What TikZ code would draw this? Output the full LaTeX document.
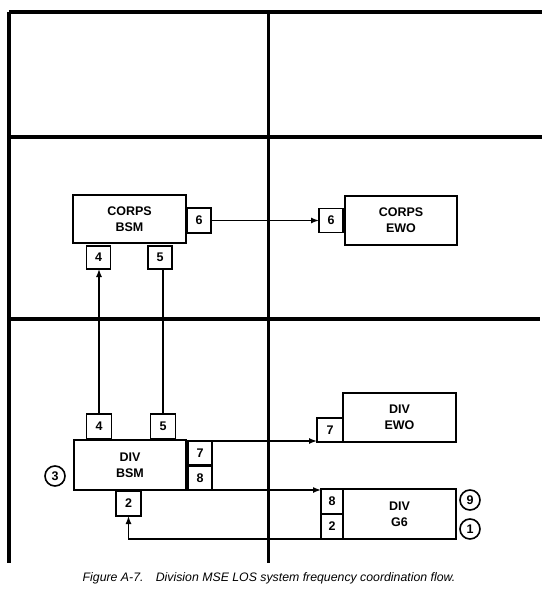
\documentclass[tikz,border=0pt]{standalone}
\usepackage{fontspec}
\setmainfont{Liberation Sans}
\usetikzlibrary{arrows.meta}
\begin{document}
\begin{tikzpicture}[x=1pt,y=-1pt,
  gridline/.style={line width=3.2pt},
  bigbox/.style={draw,line width=1.6pt,inner sep=0pt,outer sep=0pt,minimum width=113pt,minimum height=49pt,align=center,font=\bfseries\fontsize{12.5}{16}\selectfont},
  numbox/.style={draw,line width=1.6pt,inner sep=0pt,outer sep=0pt,minimum width=24pt,minimum height=24pt,font=\bfseries\fontsize{12.5}{14}\selectfont},
  numcirc/.style={draw,circle,line width=1.6pt,inner sep=0pt,minimum size=20pt,font=\bfseries\fontsize{12.5}{14}\selectfont},
  conn/.style={line width=1.4pt},
  arr/.style={conn,-{Latex[length=8pt,width=6pt]}}]
\useasboundingbox (0,0) rectangle (550,596);
% grid
\coordinate (tl) at (9,12);
\coordinate (tr) at (542,12);
\coordinate (ml) at (9,137);
\coordinate (mr) at (542,137);
\coordinate (ll) at (9,319);
\coordinate (lr) at (540,319);
\coordinate (bl) at (9,563);
\coordinate (ct) at (268.5,12);
\coordinate (cb) at (268.5,563);
\draw[gridline] (tl) -- (tr);
\draw[gridline] (ml) -- (mr);
\draw[gridline] (ll) -- (lr);
\draw[gridline] (tl) -- (bl);
\draw[gridline] (ct) -- (cb);
% corps level
\node[bigbox,minimum width=113pt,minimum height=48pt] (cbsm) at (129.5,219) {CORPS\\BSM};
\node[numbox,minimum height=25pt] (a6) at (199,220.5) {6};
\node[numbox,minimum height=23pt] (a4) at (98.5,257.5) {4};
\node[numbox,minimum height=23pt] (a5) at (160,257.5) {5};
\node[bigbox,minimum width=112pt,minimum height=49pt] (cewo) at (401,220.5) {CORPS\\EWO};
\node[numbox] (b6) at (331,220.5) {6};
% division level
\node[bigbox,minimum width=112pt,minimum height=50pt] (dbsm) at (130,465) {DIV\\BSM};
\node[numbox,minimum width=25pt,minimum height=25pt] (d4) at (99,426.5) {4};
\node[numbox,minimum width=25pt,minimum height=25pt] (d5) at (163,426.5) {5};
\node[numbox] (d7) at (200,453) {7};
\node[numbox] (d8) at (200,478) {8};
\node[numbox,minimum width=25pt,minimum height=25pt] (d2) at (128.5,503.5) {2};
\node[numcirc] (c3) at (55,476) {3};
\node[bigbox,minimum width=113pt,minimum height=49pt] (dewo) at (399.5,417.5) {DIV\\EWO};
\node[numbox,minimum width=26pt,minimum height=24pt] (e7) at (330,430) {7};
\node[bigbox,minimum width=113pt,minimum height=50pt] (g6) at (399.5,514) {DIV\\G6};
\node[numbox,minimum width=22pt,minimum height=25pt] (g8) at (332,501.5) {8};
\node[numbox,minimum width=22pt,minimum height=25pt] (g2) at (332,526.5) {2};
\node[numcirc] (c9) at (470,500) {9};
\node[numcirc] (c1) at (470,529) {1};
% connectors
\draw[arr] (a6.east) -- (b6.west);
\draw[arr] (d4.north) -- (d4.north |- a4.south);
\draw[conn] (d5.north) -- (d5.north |- a5.south);
\draw[arr] (d7.north east) -- (d7.north east -| e7.south west);
\draw[arr] (d8.south east) -- (d8.south east -| g8.north west);
\draw[arr] (g2.south west) -| (d2.south);
% caption
\node[font=\itshape\fontsize{12.3}{14}\selectfont] (cap) at (269,578) {Figure A-7.\hspace{1em}Division MSE LOS system frequency coordination flow.};
\end{tikzpicture}
\end{document}
